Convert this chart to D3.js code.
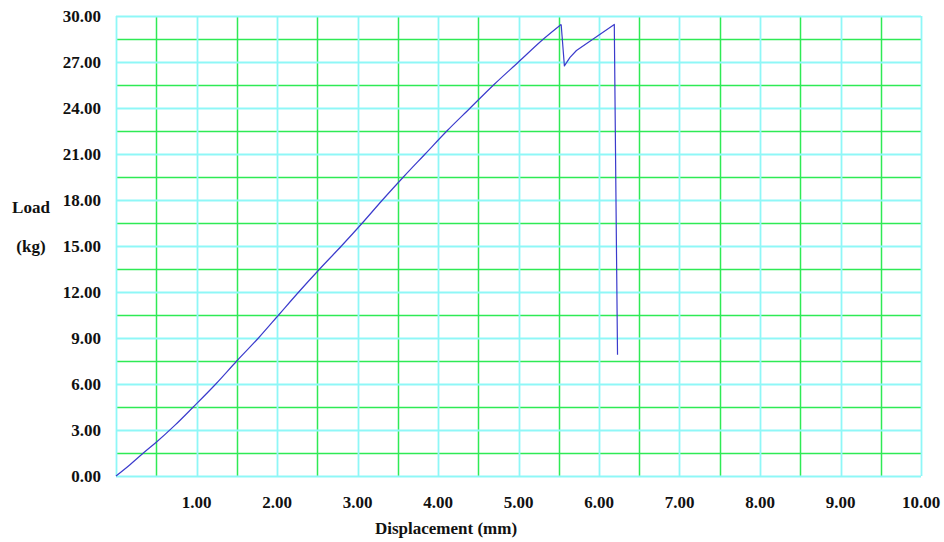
<!DOCTYPE html>
<html>
<head>
<meta charset="utf-8">
<script src="https://cdn.jsdelivr.net/npm/d3@7"></script>
<style>
  html, body { margin: 0; padding: 0; background: #fff; }
  svg text { font-family: "Liberation Serif", "DejaVu Serif", serif; font-weight: bold; fill: #111; }
</style>
</head>
<body>
<svg id="chart" width="944" height="542"></svg>
<script>
// Load–displacement record of the test specimen
const displacement = [0, 0.17, 0.34, 0.5, 0.73, 0.96, 1.24, 1.5, 1.77, 2.02, 2.27, 2.53, 2.8, 3.06, 3.31, 3.57, 3.84, 4.11, 4.40, 4.69, 5.0, 5.31, 5.53, 5.57, 5.64, 5.72, 6.19, 6.21, 6.23];
const load         = [0, 0.72, 1.5, 2.2, 3.3, 4.5, 6.0, 7.5, 9.0, 10.5, 12.0, 13.5, 15.0, 16.5, 18.0, 19.5, 21.0, 22.5, 24.0, 25.5, 27.0, 28.5, 29.45, 26.75, 27.3, 27.75, 29.45, 18.5, 7.9];

// Axis tick values
const xTicks = [1, 2, 3, 4, 5, 6, 7, 8, 9, 10];
const yTicks = [0, 3, 6, 9, 12, 15, 18, 21, 24, 27, 30];
const xMinor = [0.5, 1.5, 2.5, 3.5, 4.5, 5.5, 6.5, 7.5, 8.5, 9.5];
const yMinor = [1.5, 4.5, 7.5, 10.5, 13.5, 16.5, 19.5, 22.5, 25.5, 28.5];

const svg = d3.select("#chart");
const plot = { left: 116, right: 921, top: 16, bottom: 476 };

const x = d3.scaleLinear().domain([0, 10]).range([plot.left, plot.right]);
const y = d3.scaleLinear().domain([0, 30]).range([plot.bottom, plot.top]);

const cyan = "#8ff7f7";
const green = "#2eea55";
const px = v => Math.round(v) + 0.5;

const grid = svg.append("g");

function vLines(cls, values, color, w) {
  grid.selectAll("line." + cls).data(values).join("line")
    .attr("class", cls)
    .attr("x1", d => px(x(d))).attr("x2", d => px(x(d)))
    .attr("y1", plot.top).attr("y2", plot.bottom)
    .attr("stroke", color).attr("stroke-width", w);
}
function hLines(cls, values, color, w) {
  grid.selectAll("line." + cls).data(values).join("line")
    .attr("class", cls)
    .attr("y1", d => px(y(d))).attr("y2", d => px(y(d)))
    .attr("x1", plot.left).attr("x2", plot.right)
    .attr("stroke", color).attr("stroke-width", w);
}

// Half-step grid (green), whole-step grid and frame (cyan)
vLines("gx", xMinor, green, 1.5);
hLines("gy", yMinor, green, 1.5);
vLines("cx", [0].concat(xTicks), cyan, 1.8);
hLines("cy", yTicks, cyan, 1.8);

// Tick labels
svg.append("g").selectAll("text").data(yTicks).join("text")
  .attr("x", 101).attr("y", d => y(d))
  .attr("dy", "0.35em").attr("text-anchor", "end")
  .attr("font-size", 17)
  .text(d => d.toFixed(2));

svg.append("g").selectAll("text").data(xTicks).join("text")
  .attr("x", d => x(d)).attr("y", 502)
  .attr("dy", "0.35em").attr("text-anchor", "middle")
  .attr("font-size", 17)
  .text(d => d.toFixed(2));

// Axis titles
svg.append("text").attr("x", 31).attr("y", 207).attr("dy", "0.35em")
  .attr("text-anchor", "middle").attr("font-size", 17).text("Load");
svg.append("text").attr("x", 31).attr("y", 246).attr("dy", "0.35em")
  .attr("text-anchor", "middle").attr("font-size", 17).text("(kg)");
svg.append("text").attr("x", 446).attr("y", 528).attr("dy", "0.35em")
  .attr("text-anchor", "middle").attr("font-size", 17).text("Displacement (mm)");

// Load curve: smooth loading branch up to the first peak, then the
// post-peak response drawn point to point
const pts = displacement.map((d, i) => [d, load[i]]);
const peakIdx = d3.maxIndex(load);
const rising = pts.slice(0, peakIdx + 1);
const after = pts.slice(peakIdx);

const smooth = d3.line().x(d => x(d[0])).y(d => y(d[1])).curve(d3.curveMonotoneX);
const straight = d3.line().x(d => x(d[0])).y(d => y(d[1]));

const curveStyle = sel => sel
  .attr("fill", "none")
  .attr("stroke", "#3b3bcc")
  .attr("stroke-width", 1.2)
  .attr("stroke-linejoin", "round");

svg.append("path").datum(rising).attr("d", smooth).call(curveStyle);
svg.append("path").datum(after).attr("d", straight).call(curveStyle);
</script>
</body>
</html>
